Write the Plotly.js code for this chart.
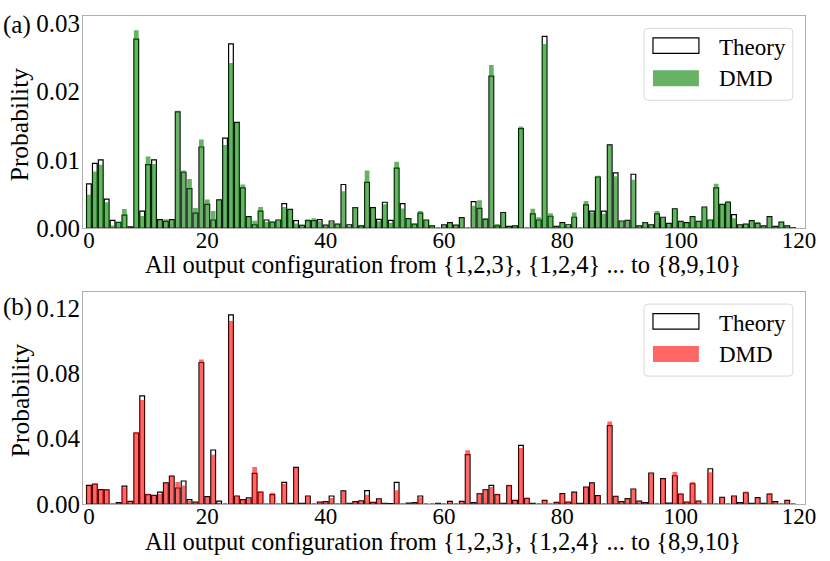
<!DOCTYPE html>
<html>
<head>
<meta charset="utf-8">
<script src="https://cdn.plot.ly/plotly-3.0.1.min.js"></script>
<style>html,body{margin:0;padding:0;background:#fff;}#chart{width:830px;height:561px;}</style>
</head>
<body>
<div id="chart"></div>
<script>
// Probability of each of the 120 output configurations {1,2,3}, {1,2,4} ... {8,9,10}
const theoryA = [0.0065,0.0095,0.0100,0.00425,0.00115,0.00085,0.0019,0.0002,0.0277,0.0025,
0.0093,0.0100,0.00125,0.0010,0.00125,0.01705,0.0082,0.0058,0.0022,0.0119,
0.0035,0.0012,0.00415,0.0132,0.0270,0.0155,0.0059,0.0017,0.0005,0.0025,
0.0012,0.0009,0.0012,0.0036,0.00275,0.0011,0.0004,0.0011,0.0011,0.00125,
0.00045,0.00105,0.0006,0.0064,0.0005,0.0030,0.00035,0.0067,0.0030,0.0013,
0.0038,0.00115,0.0088,0.0036,0.0014,0.0006,0.0022,0.0012,0.00035,0,
0.0005,0.0008,0.00045,0.00155,0,0.0039,0.0029,0.0013,0.0223,0.00035,
0.0023,0.00025,0.00035,0.0146,0,0.0021,0.0012,0.0281,0.00175,0.00025,
0.0008,0.0005,0.0016,0,0.0034,0.0025,0.0075,0.0025,0.0122,0.0081,
0.00105,0.00115,0.0079,0.00035,0.0008,0.0005,0.0021,0.0016,0.0007,0.00285,
0.0010,0.0008,0.0017,0.0010,0.0031,0.0012,0.0059,0.0035,0.0038,0.0020,
0.0005,0.0006,0.0011,0.0007,0.00035,0.0017,0.00025,0.0009,0.00035,0.00005];

const dmdA = [0.0049,0.0083,0.0093,0.0038,0.0004,0.0009,0.0028,0.0002,0.0290,0.0018,
0.0105,0.0094,0.00125,0.0013,0.00125,0.0172,0.00845,0.0072,0.00295,0.0130,
0.0042,0.0025,0.00415,0.0122,0.0242,0.0155,0.0064,0.0017,0.0011,0.0031,
0.0009,0.0009,0.0012,0.0031,0.00275,0.0007,0.0005,0.0013,0.00145,0.0010,
0.00045,0.0009,0.0006,0.0054,0.00035,0.0031,0.00035,0.00845,0.0030,0.0010,
0.0035,0.0008,0.00975,0.0029,0.0014,0.0006,0.0025,0.0012,0.00035,0,
0.0005,0.0008,0.00045,0.00155,0,0.0033,0.0041,0.0015,0.0239,0.0006,
0.0023,0.00025,0.00035,0.0149,0,0.00285,0.0016,0.0270,0.0022,0.00025,
0.0008,0.00035,0.0023,0,0.0040,0.0023,0.0077,0.0021,0.0122,0.0076,
0.00105,0.00115,0.0071,0.00035,0.0009,0.0005,0.0025,0.0016,0.0007,0.00285,
0.0010,0.0008,0.0017,0.0010,0.0031,0.0012,0.0065,0.0035,0.0040,0.00145,
0.0005,0.0006,0.0011,0.0009,0.00035,0.0017,0.00025,0.0009,0.00035,0.00005];

const theoryB = [0.0114,0.0122,0.0088,0.0086,0,0.0008,0.0110,0.0016,0.0435,0.0663,
0.0057,0.0053,0.0073,0.0129,0.0171,0.0098,0.0141,0.0027,0.0012,0.0867,
0.0045,0.0331,0.0018,0,0.1159,0.0049,0.0027,0.0037,0.0188,0.0073,
0,0.0057,0,0.0133,0.0004,0.0224,0.0004,0.0049,0,0.0012,
0.0014,0.0049,0,0.0080,0.0004,0.0014,0.0020,0.0082,0.0010,0.0031,
0.0004,0.0002,0.0133,0,0.0006,0.0008,0.0049,0,0,0.0004,
0,0.0016,0,0.0016,0.0302,0.0008,0.0063,0.0088,0.0114,0.0057,
0.0004,0.0112,0.0022,0.0359,0.0035,0.0004,0,0.0022,0,0.0010,
0.0063,0.0012,0.0073,0.0004,0.0104,0.0129,0.0051,0,0.0480,0.0047,
0.0014,0.0033,0.0092,0.0018,0.0008,0.0190,0,0.0155,0.0006,0.0173,
0.0061,0.0012,0.0124,0.0018,0,0.0216,0,0.0041,0,0.0049,
0.0008,0.0069,0.0004,0.0039,0.0004,0.0061,0.0014,0,0.0022,0];

const dmdB = [0.0110,0.0122,0.0088,0.0086,0,0.0008,0.0102,0.0016,0.0441,0.0637,
0.0063,0.0053,0.0061,0.0129,0.0171,0.0135,0.0114,0.0020,0.0012,0.0886,
0.0045,0.0302,0.0008,0,0.1122,0.0049,0.0027,0.0031,0.0227,0.0073,
0,0.0069,0,0.0124,0.0004,0.0224,0.0004,0.0049,0,0.0012,
0.0014,0.0037,0,0.0080,0.0004,0.0014,0.0020,0.0057,0.0010,0.0027,
0.0004,0.0002,0.0084,0,0.0006,0.0008,0.0041,0,0,0.0004,
0,0.0010,0,0.0016,0.0329,0.0008,0.0067,0.0092,0.0104,0.0063,
0.0004,0.0118,0.0022,0.0343,0.0035,0.0004,0,0.0022,0,0.0010,
0.0063,0.0012,0.0069,0.0004,0.0104,0.0129,0.0051,0,0.0506,0.0047,
0.0014,0.0033,0.0092,0.0018,0.0008,0.0190,0,0.0155,0.0006,0.0196,
0.0061,0.0012,0.0135,0.0018,0,0.0194,0,0.0041,0,0.0049,
0.0008,0.0076,0.0004,0.0039,0.0004,0.0065,0.0014,0,0.0022,0];

const xTicks = [0, 20, 40, 60, 80, 100, 120];
const yTicksA = [0, 0.01, 0.02, 0.03];
const yTicksB = [0, 0.04, 0.08, 0.12];
const seriesNames = ["Theory", "DMD"];
const xTitle = "All output configuration from {1,2,3}, {1,2,4} ... to {8,9,10}";
const yTitle = "Probability";

// configuration index 0..119
const configIndex = theoryA.map((_, i) => i);

const FONT = "Liberation Serif, Times New Roman, serif";
const GREEN = "rgba(0,128,0,0.6)";
const RED = "rgba(255,0,0,0.6)";

// pixel geometry
const L = 82.7, R = 805.5, T = 16, B = 504.3;
const W = R - L, H = B - T;
const px = x => (x - L) / W;
const py = y => (B - y) / H;

function bar(y, xa, ya, color, outline) {
  return {
    type: "bar", x: configIndex, y: y, xaxis: xa, yaxis: ya, width: 0.8,
    marker: outline
      ? {color: "rgba(255,255,255,0)", line: {color: "#000", width: 1.2}}
      : {color: color, line: {width: 0}},
    showlegend: false, hoverinfo: "x+y"
  };
}

const data = [
  bar(theoryA, "x", "y", null, true),
  bar(dmdA, "x", "y", GREEN, false),
  bar(theoryB, "x2", "y2", null, true),
  bar(dmdB, "x2", "y2", RED, false)
];

const xBase = {
  showline: true, mirror: true, linecolor: "#b0b0b0", linewidth: 1,
  showgrid: false, zeroline: false, ticks: "", ticklabelstandoff: -9,
  tickfont: {family: FONT, size: 23, color: "#000"}
};
const yBase = Object.assign({}, xBase, {
  ticklabelstandoff: -3,
  tickfont: {family: FONT, size: 25, color: "#000"}
});

function roundRect(x0, y0, x1, y1, r) {
  const P = (x, y) => px(x).toFixed(5) + "," + py(y).toFixed(5);
  return "M" + P(x0 + r, y0) + " L" + P(x1 - r, y0) + " Q" + P(x1, y0) + " " + P(x1, y0 + r) +
    " L" + P(x1, y1 - r) + " Q" + P(x1, y1) + " " + P(x1 - r, y1) +
    " L" + P(x0 + r, y1) + " Q" + P(x0, y1) + " " + P(x0, y1 - r) +
    " L" + P(x0, y0 + r) + " Q" + P(x0, y0) + " " + P(x0 + r, y0) + " Z";
}

function legend(top, color) {
  const shapes = [
    {type: "path", xref: "paper", yref: "paper", path: roundRect(644.3, top, 793.3, top + 72, 4),
     fillcolor: "rgba(255,255,255,0.8)", line: {color: "#d8d8d8", width: 1}},
    {type: "rect", xref: "paper", yref: "paper", x0: px(653.3), x1: px(699.3), y0: py(top + 9.5), y1: py(top + 25),
     fillcolor: "#fff", line: {color: "#000", width: 1.2}},
    {type: "rect", xref: "paper", yref: "paper", x0: px(653.3), x1: px(699.3), y0: py(top + 42), y1: py(top + 58),
     fillcolor: color, line: {width: 0}}
  ];
  const ann = [
    {text: seriesNames[0], x: px(717), y: py(top + 19), xanchor: "left", yanchor: "middle", font: {family: FONT, size: 23, color: "#000"}},
    {text: seriesNames[1], x: px(717), y: py(top + 50), xanchor: "left", yanchor: "middle", font: {family: FONT, size: 23, color: "#000"}}
  ];
  return {shapes, ann};
}

const legA = legend(28.3, GREEN);
const legB = legend(304.3, RED);

const textAnn = [
  {text: "(a)", x: px(17), y: py(25), xanchor: "center", yanchor: "middle", font: {family: FONT, size: 25, color: "#000"}},
  {text: "(b)", x: px(17), y: py(306.7), xanchor: "center", yanchor: "middle", font: {family: FONT, size: 25, color: "#000"}},
  {text: xTitle, x: px(443), y: py(265), xanchor: "center", yanchor: "middle"},
  {text: xTitle, x: px(443), y: py(541.7), xanchor: "center", yanchor: "middle"},
  {text: yTitle, x: px(20), y: py(124), xanchor: "center", yanchor: "middle", textangle: -90, font: {family: FONT, size: 25.5, color: "#000"}},
  {text: yTitle, x: px(20), y: py(400), xanchor: "center", yanchor: "middle", textangle: -90, font: {family: FONT, size: 25.5, color: "#000"}}
].concat(legA.ann, legB.ann).map(a => Object.assign({
  xref: "paper", yref: "paper", showarrow: false,
  font: {family: FONT, size: 24.5, color: "#000"}
}, a));

const layout = {
  width: 830, height: 561,
  margin: {l: L, r: 830 - R, t: T, b: 561 - B, pad: 0},
  paper_bgcolor: "#fff", plot_bgcolor: "#fff",
  barmode: "overlay", showlegend: false,
  xaxis: Object.assign({}, xBase, {domain: [0, 1], range: [-1, 121], tickvals: xTicks, anchor: "y"}),
  yaxis: Object.assign({}, yBase, {domain: [py(228.3), 1], range: [0, 0.0311], tickvals: yTicksA, tickformat: ".2f", anchor: "x"}),
  xaxis2: Object.assign({}, xBase, {domain: [0, 1], range: [-1, 121], tickvals: xTicks, anchor: "y2"}),
  yaxis2: Object.assign({}, yBase, {domain: [0, py(291.7)], range: [0, 0.1302], tickvals: yTicksB, tickformat: ".2f", anchor: "x2"}),
  shapes: legA.shapes.concat(legB.shapes),
  annotations: textAnn
};

Plotly.newPlot("chart", data, layout, {displayModeBar: false, staticPlot: true});
</script>
</body>
</html>
